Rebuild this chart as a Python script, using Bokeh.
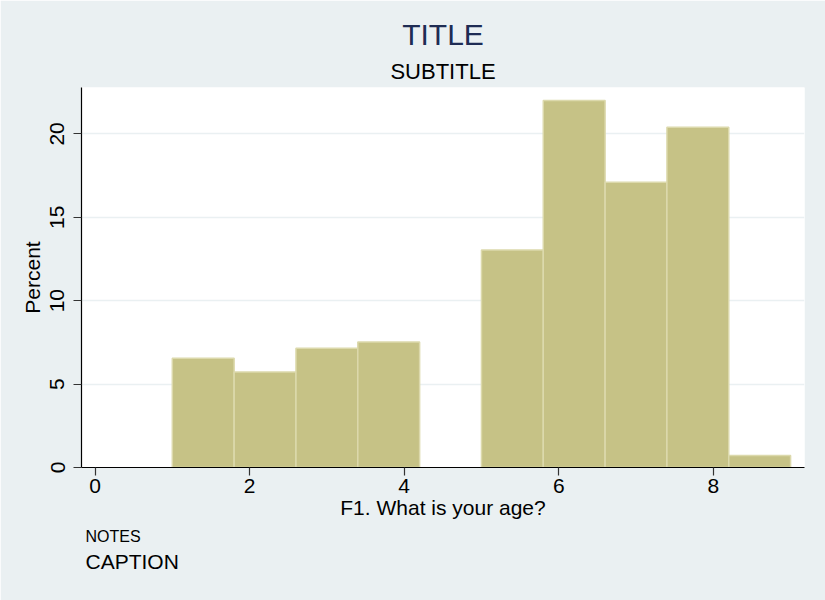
from bokeh.plotting import figure
from bokeh.models import Range1d, FixedTicker, Title, ColumnDataSource
from bokeh.embed import file_html
from bokeh.resources import INLINE

# ---- data ----
bin_edges = [1.0, 1.8, 2.6, 3.4, 4.2, 5.0, 5.8, 6.6, 7.4, 8.2, 9.0]
percents = [6.55, 5.72, 7.15, 7.52, 0.0, 13.04, 22.0, 17.1, 20.4, 0.72]
x_ticks = [0, 2, 4, 6, 8]
y_ticks = [0, 5, 10, 15, 20]

FONT = "Liberation Sans"
BG = "#EAF0F2"

lefts, rights, tops = [], [], []
for i, v in enumerate(percents):
    if v > 0:
        lefts.append(bin_edges[i])
        rights.append(bin_edges[i + 1])
        tops.append(v)
src = ColumnDataSource(dict(left=lefts, right=rights, top=tops, bottom=[0] * len(tops)))

p = figure(width=825, height=600, output_backend="svg", toolbar_location=None,
           x_range=Range1d(-0.175, 9.18), y_range=Range1d(0, 22.78),
           min_border_left=81, min_border_right=21, min_border_top=87, min_border_bottom=133)
p.background_fill_color = "white"
p.border_fill_color = BG
p.outline_line_color = None

p.quad(left="left", right="right", top="top", bottom="bottom", source=src,
       fill_color="#C6C286", line_color="#DCD9AC", line_width=1.5)

# titles
p.title.text = ""
p.add_layout(Title(text="SUBTITLE", align="center", text_font=FONT, text_font_size="22px",
                   text_font_style="normal", text_color="black", standoff=8), "above")
p.add_layout(Title(text="TITLE", align="center", text_font=FONT, text_font_size="30px",
                   text_font_style="normal", text_color="#1E2C54", standoff=3), "above")

# axes
p.xaxis.ticker = FixedTicker(ticks=x_ticks)
p.yaxis.ticker = FixedTicker(ticks=y_ticks)
p.xaxis.axis_label = "F1. What is your age?"
p.yaxis.axis_label = "Percent"
for ax in (p.xaxis, p.yaxis):
    ax.axis_line_color = "black"
    ax.axis_line_width = 1.2
    ax.major_tick_line_color = "#333333"
    ax.major_tick_line_width = 1.2
    ax.major_tick_out = 8
    ax.major_tick_in = 0
    ax.minor_tick_line_color = None
    ax.major_label_text_font = FONT
    ax.major_label_text_font_size = "21px"
    ax.major_label_text_color = "black"
    ax.axis_label_text_font = FONT
    ax.axis_label_text_font_size = "21px"
    ax.axis_label_text_font_style = "normal"
    ax.axis_label_text_color = "black"
p.xaxis.major_label_standoff = 3
p.xaxis.axis_label_standoff = 0
p.yaxis.major_label_orientation = "vertical"
p.yaxis.major_label_standoff = 9
p.yaxis.axis_label_standoff = 4

p.xgrid.grid_line_color = None
p.ygrid.grid_line_color = "#EAF0F2"
p.ygrid.grid_line_width = 1.5

p.add_layout(Title(text="NOTES", align="left", text_font=FONT, text_font_size="16px",
                   text_font_style="normal", text_color="black", offset=4, standoff=8), "below")
p.add_layout(Title(text="CAPTION", align="left", text_font=FONT, text_font_size="21px",
                   text_font_style="normal", text_color="black", offset=4, standoff=-1), "below")

open("out.html", "w").write(file_html(p, INLINE))
